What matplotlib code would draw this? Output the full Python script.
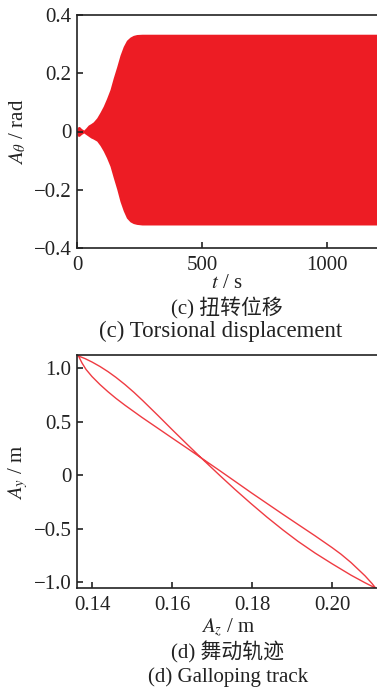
import matplotlib
matplotlib.use("Agg")
import matplotlib.pyplot as plt
from matplotlib.ticker import FixedLocator, FixedFormatter

plt.rcParams['font.family'] = ['Liberation Serif', 'Noto Sans CJK SC']
plt.rcParams['mathtext.fontset'] = 'stix'
plt.rcParams['axes.unicode_minus'] = True

# ---------------- data: (c) torsional displacement envelope ----------------
t_env = [0, 5, 10, 18, 27, 35, 45, 55, 65, 79, 92, 105, 118, 132, 145, 159, 172,
         185, 198, 212, 225, 239, 260, 300, 600, 900, 1200]
upper_env = [0.012, 0.017, 0.017, 0.010, 0.005, 0.012, 0.022, 0.027, 0.033, 0.047,
             0.066, 0.087, 0.113, 0.144, 0.184, 0.223, 0.262, 0.292, 0.313, 0.324,
             0.330, 0.333, 0.334, 0.334, 0.334, 0.334, 0.334]
lower_env = [-0.012, -0.017, -0.016, -0.010, -0.005, -0.010, -0.016, -0.022, -0.026,
             -0.033, -0.048, -0.067, -0.090, -0.119, -0.158, -0.198, -0.240, -0.272,
             -0.297, -0.310, -0.316, -0.319, -0.321, -0.321, -0.321, -0.321, -0.321]

# ---------------- data: (d) galloping track (closed figure-eight) -----------
z_branch1 = [0.136625, 0.13825, 0.14, 0.142, 0.144, 0.146, 0.14825, 0.1505, 0.15275,
             0.1565, 0.16025, 0.164, 0.168, 0.172, 0.17575, 0.17975, 0.18375,
             0.18775, 0.1915, 0.19575, 0.2, 0.20475, 0.20825, 0.21, 0.210875]
y_branch1 = [1.112, 1.088, 1.056, 1.014, 0.966, 0.912, 0.845, 0.772, 0.693, 0.556,
             0.416, 0.279, 0.135, -0.006, -0.135, -0.267, -0.394, -0.514, -0.620,
             -0.729, -0.829, -0.936, -1.007, -1.040, -1.055]
z_branch2 = [0.21, 0.20825, 0.20475, 0.20225, 0.2, 0.19575, 0.1915, 0.18775, 0.18375,
             0.17975, 0.17575, 0.172, 0.168, 0.164, 0.16025, 0.1565, 0.1525, 0.14825,
             0.146, 0.144, 0.142, 0.14, 0.1385, 0.1375, 0.137, 0.136625]
y_branch2 = [-1.014, -0.942, -0.818, -0.740, -0.678, -0.568, -0.462, -0.368, -0.266,
             -0.164, -0.059, 0.039, 0.142, 0.245, 0.340, 0.436, 0.538, 0.652, 0.716,
             0.778, 0.845, 0.920, 0.987, 1.047, 1.084, 1.112]

# ---------------- tick labels ----------------
c_xticks = [0, 500, 1000]
c_xlabels = ['0', '500', '1000']
c_yticks = [-0.4, -0.2, 0, 0.2, 0.4]
c_ylabels = ['\u22120.4', '\u22120.2', '0', '0.2', '0.4']
d_xticks = [0.14, 0.16, 0.18, 0.20]
d_xlabels = ['0.14', '0.16', '0.18', '0.20']
d_yticks = [-1.0, -0.5, 0, 0.5, 1.0]
d_ylabels = ['\u22121.0', '\u22120.5', '0', '0.5', '1.0']

W, H = 377, 696
fig = plt.figure(figsize=(W / 100, H / 100), dpi=100)

def px_rect(l, t, r, b):
    return [l / W, 1 - b / H, (r - l) / W, (b - t) / H]

FS = 15
red = '#ED1C24'
ink = '#222222'

def style(ax):
    ax.spines['right'].set_visible(False)
    for s in ['left', 'top', 'bottom']:
        ax.spines[s].set_linewidth(1.2)
        ax.spines[s].set_color(ink)
    ax.tick_params(direction='in', length=4, width=1.2, labelsize=FS,
                   top=False, right=False, colors=ink)
    ax.tick_params(axis='x', pad=6)
    ax.tick_params(axis='y', pad=4)

# (c)
ax1 = fig.add_axes(px_rect(77, 15, 377, 248))
ax1.fill_between(t_env, lower_env, upper_env, color=red, linewidth=0)
ax1.set_xlim(0, 1200)
ax1.set_ylim(-0.4, 0.4)
ax1.xaxis.set_major_locator(FixedLocator(c_xticks))
ax1.xaxis.set_major_formatter(FixedFormatter(c_xlabels))
ax1.yaxis.set_major_locator(FixedLocator(c_yticks))
ax1.yaxis.set_major_formatter(FixedFormatter(c_ylabels))
style(ax1)

# (d)
ax2 = fig.add_axes(px_rect(77, 355, 377, 588))
ax2.plot(z_branch1 + z_branch2, y_branch1 + y_branch2, color='#EF3B42', lw=1.0,
         solid_joinstyle='round')
ax2.set_xlim(0.13625, 0.21125)
ax2.set_ylim(-1.056, 1.1215)
ax2.xaxis.set_major_locator(FixedLocator(d_xticks))
ax2.xaxis.set_major_formatter(FixedFormatter(d_xlabels))
ax2.yaxis.set_major_locator(FixedLocator(d_yticks))
ax2.yaxis.set_major_formatter(FixedFormatter(d_ylabels))
style(ax2)

def ftext(x, y, s, fs=FS, **kw):
    fig.text(x / W, 1 - y / H, s, ha='center', va='center', fontsize=fs,
             color=ink, **kw)

ftext(18, 132, r'$A_\theta$ / rad', rotation=90)
ftext(227, 284, r'$t$ / s')
ftext(227, 308, '(c) 扭转位移')
ftext(221, 331, '(c) Torsional displacement', fs=16.5)

ftext(18, 472, r'$A_y$ / m', rotation=90)
ftext(228, 628, r'$A_z$ / m')
ftext(228, 652, '(d) 舞动轨迹')
ftext(228, 677, '(d) Galloping track')

fig.savefig('out.png', dpi=100)
